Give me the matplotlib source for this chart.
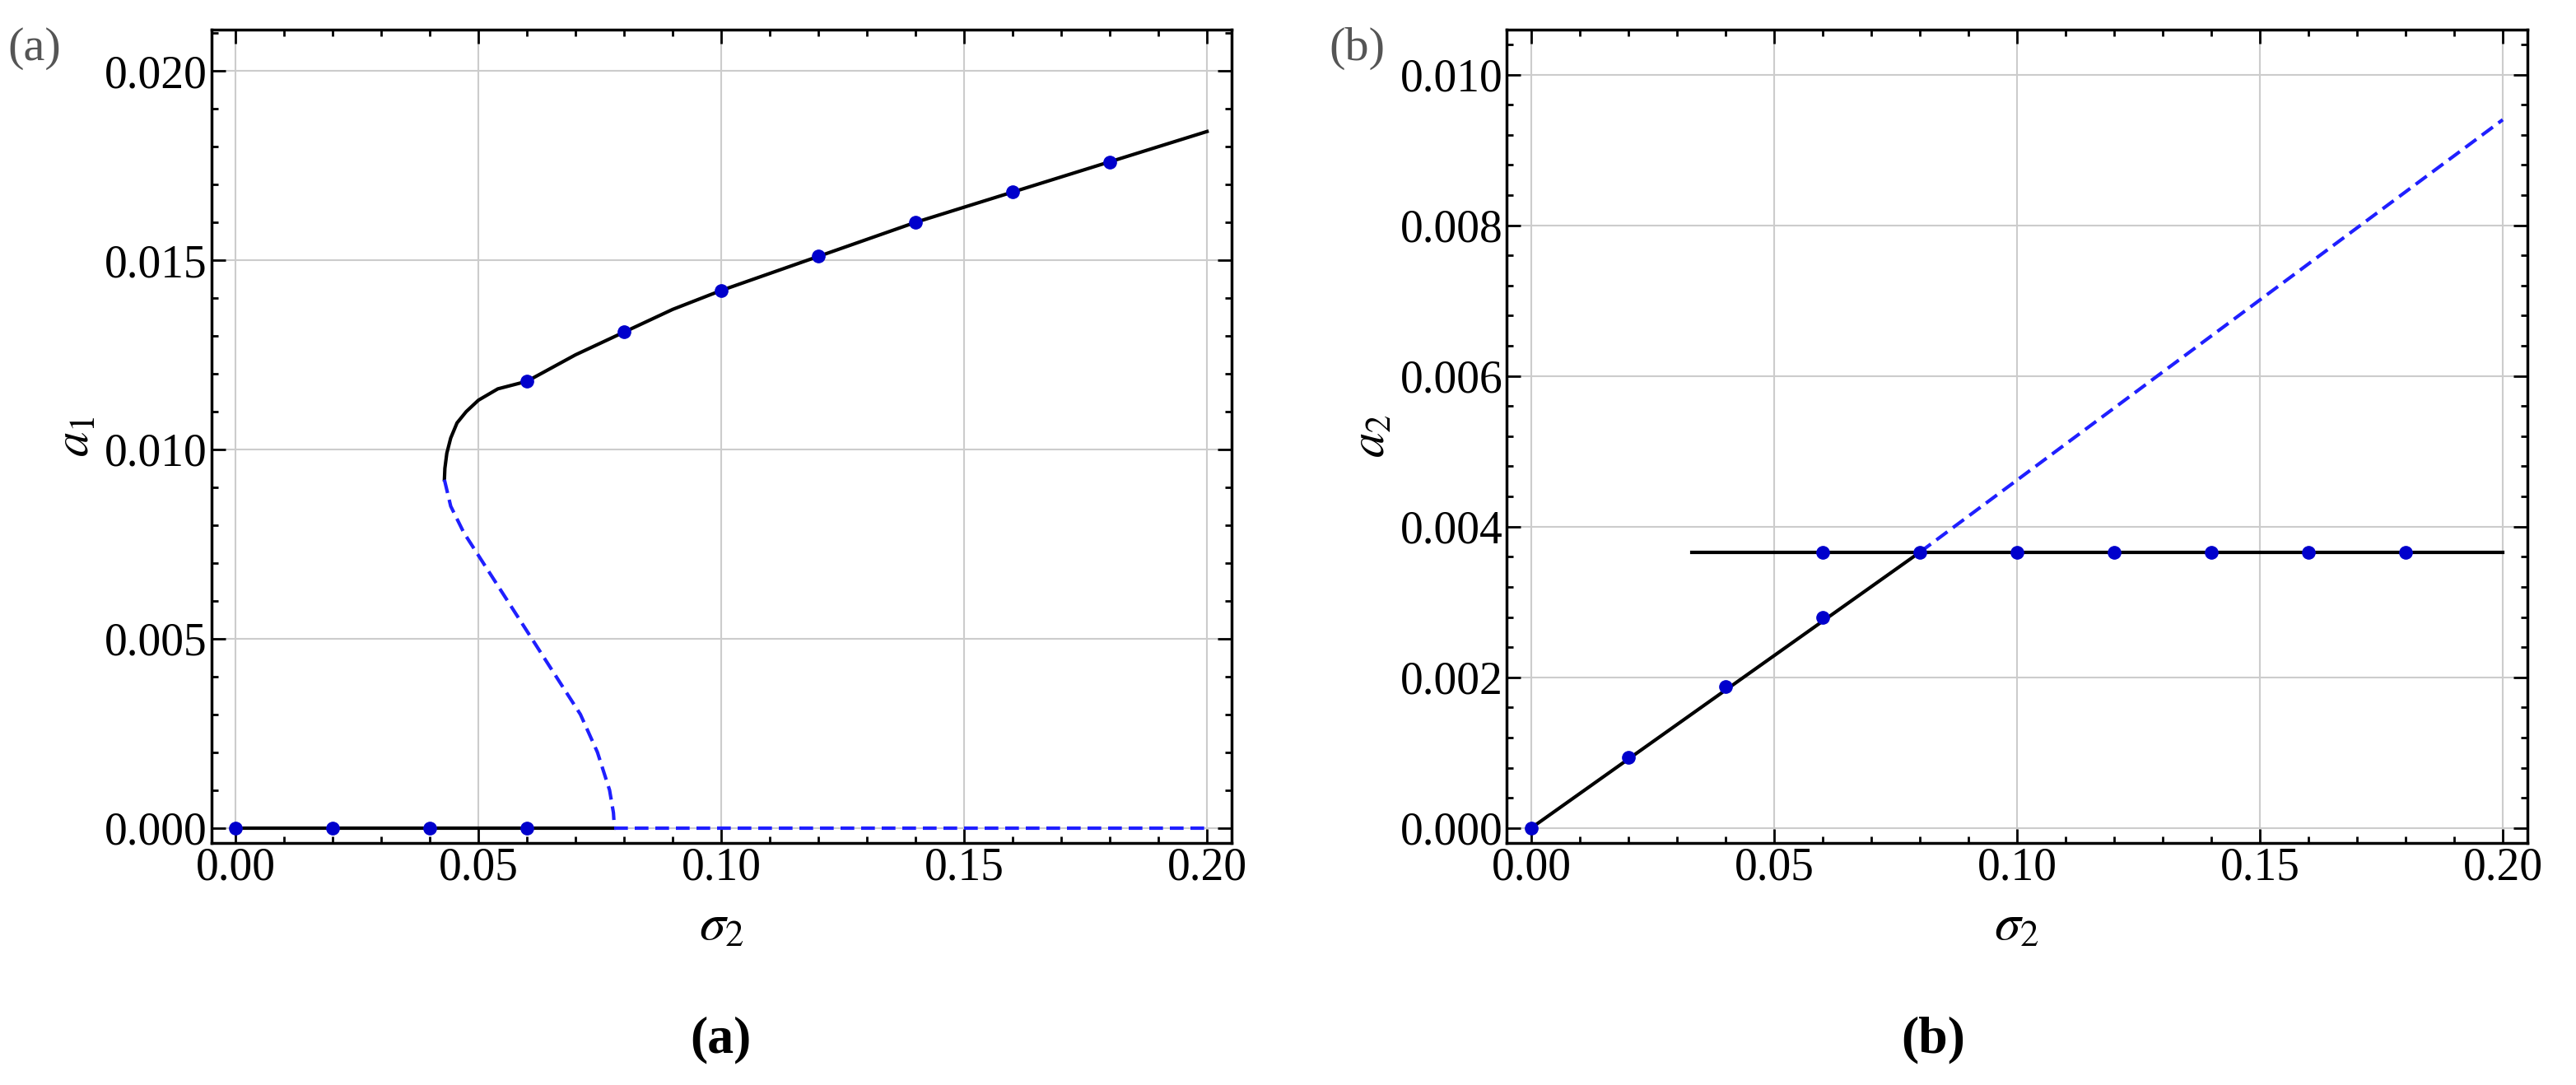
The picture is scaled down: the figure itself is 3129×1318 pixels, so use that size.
import matplotlib.pyplot as plt
from matplotlib.ticker import AutoMinorLocator

plt.rcParams["font.family"] = ["Liberation Serif", "DejaVu Serif"]
plt.rcParams["mathtext.fontset"] = "stix"

# panel (a): upper stable branch (sigma, a1)
a_up_s = [0.0430, 0.0431, 0.0435, 0.0443, 0.0456, 0.0475, 0.0500, 0.0540, 0.0600, 0.0700,
          0.0800, 0.0900, 0.1000, 0.1200, 0.1400, 0.1600, 0.1800, 0.2000]
a_up_a = [0.0092, 0.0095, 0.0099, 0.0103, 0.0107, 0.0110, 0.0113, 0.0116, 0.0118, 0.0125,
          0.0131, 0.0137, 0.0142, 0.0151, 0.0160, 0.0168, 0.0176, 0.0184]
# unstable branch
a_un_s = [0.0430, 0.0443, 0.0470, 0.0510, 0.0560, 0.0610, 0.0660, 0.0710, 0.0745, 0.0770,
          0.0778, 0.0780]
a_un_a = [0.0092, 0.0085, 0.0078, 0.0070, 0.0060, 0.0050, 0.0040, 0.0030, 0.0020, 0.0010,
          0.0004, 0.0]
a_zero_split = 0.078
a_dots_s = [0.0, 0.02, 0.04, 0.06, 0.06, 0.08, 0.10, 0.12, 0.14, 0.16, 0.18]
a_dots_a = [0.0, 0.0, 0.0, 0.0, 0.0118, 0.0131, 0.0142, 0.0151, 0.0160, 0.0168, 0.0176]

# panel (b)
b_line_s = [0.0, 0.08]
b_line_a = [0.0, 0.00366]
b_dash_s = [0.08, 0.2]
b_dash_a = [0.00366, 0.0094]
b_flat_s = [0.033, 0.2]
b_flat_a = [0.00366, 0.00366]
b_dots_s = [0.0, 0.02, 0.04, 0.06, 0.06, 0.08, 0.10, 0.12, 0.14, 0.16, 0.18]
b_dots_a = [0.0, 0.00094, 0.00188, 0.0028, 0.00366, 0.00366, 0.00366, 0.00366, 0.00366, 0.00366, 0.00366]

fig = plt.figure(figsize=(31.29, 13.18), dpi=100)
ax1 = fig.add_axes([0.082, 0.223, 0.396, 0.75])
ax2 = fig.add_axes([0.585, 0.223, 0.396, 0.75])

blue = "#1f1fff"
ax1.plot(a_up_s, a_up_a, color="black", lw=3)
ax1.plot(a_un_s, a_un_a, color=blue, lw=3, ls=(0, (4, 2)))
ax1.plot([0, a_zero_split], [0, 0], color="black", lw=3)
ax1.plot([a_zero_split, 0.2], [0, 0], color=blue, lw=3, ls=(0, (4, 2)))
ax1.plot(a_dots_s, a_dots_a, "o", color="#0000cc", ms=11, zorder=5)
ax1.set_ylim(-0.0004, 0.0211)
ax1.set_yticks([0, 0.005, 0.010, 0.015, 0.020])
ax1.set_yticklabels(["0.000", "0.005", "0.010", "0.015", "0.020"])
ax1.set_ylabel(r"$a_1$", fontsize=44)

ax2.plot(b_line_s, b_line_a, color="black", lw=3)
ax2.plot(b_dash_s, b_dash_a, color=blue, lw=3, ls=(0, (4, 2)))
ax2.plot(b_flat_s, b_flat_a, color="black", lw=3)
ax2.plot(b_dots_s, b_dots_a, "o", color="#0000cc", ms=11, zorder=5)
ax2.set_ylim(-0.0002, 0.0106)
ax2.set_yticks([0, 0.002, 0.004, 0.006, 0.008, 0.010])
ax2.set_yticklabels(["0.000", "0.002", "0.004", "0.006", "0.008", "0.010"])
ax2.set_ylabel(r"$a_2$", fontsize=44)

for ax in (ax1, ax2):
    ax.set_xlim(-0.005, 0.205)
    ax.set_xticks([0, 0.05, 0.10, 0.15, 0.20])
    ax.set_xticklabels(["0.00", "0.05", "0.10", "0.15", "0.20"])
    ax.set_xlabel(r"$\sigma_2$", fontsize=46, labelpad=12)
    ax.grid(True, color="#cccccc", lw=1.5)
    ax.xaxis.set_minor_locator(AutoMinorLocator(5))
    ax.yaxis.set_minor_locator(AutoMinorLocator(5))
    ax.tick_params(which="both", direction="in", top=True, right=True, labelsize=40, width=2)
    ax.tick_params(which="major", length=12)
    ax.tick_params(which="minor", length=6)
    for sp in ax.spines.values():
        sp.set_linewidth(2.5)

fig.text(0.003, 0.945, "(a)", fontsize=42, color="#555555")
fig.text(0.516, 0.945, "(b)", fontsize=42, color="#555555")
fig.text(0.268, 0.03, "(a)", fontsize=46, fontweight="bold")
fig.text(0.738, 0.03, "(b)", fontsize=46, fontweight="bold")

fig.savefig("out.png", dpi=100)
